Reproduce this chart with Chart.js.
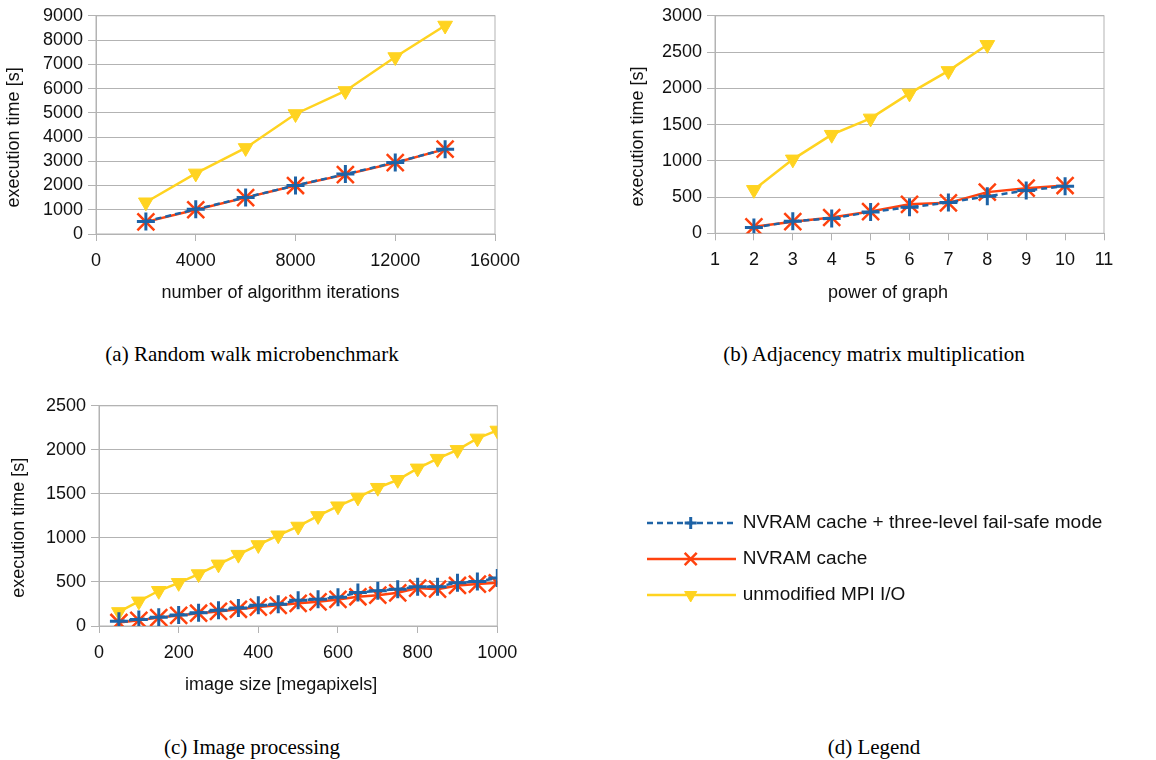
<!DOCTYPE html>
<html>
<head>
<meta charset="utf-8">
<script src="https://cdn.jsdelivr.net/npm/chart.js@4.4.1/dist/chart.umd.min.js"></script>
<style>
  html, body { margin: 0; padding: 0; background: #fff; }
  body { width: 1156px; height: 760px; position: relative; overflow: hidden; }
  canvas { position: absolute; }
  .caption { position: absolute; width: 420px; margin-left: -210px; text-align: center;
             font: 21px/24px "Liberation Serif", "Times New Roman", serif; color: #000; }
</style>
</head>
<body>
<canvas id="walk" width="540" height="310" style="left:0;top:0"></canvas>
<canvas id="adjacency" width="556" height="310" style="left:600px;top:0"></canvas>
<canvas id="image" width="540" height="320" style="left:0;top:390px"></canvas>
<canvas id="legend" width="556" height="220" style="left:600px;top:440px"></canvas>
<div class="caption" style="left:252px;top:342px">(a) Random walk microbenchmark</div>
<div class="caption" style="left:874px;top:342px">(b) Adjacency matrix multiplication</div>
<div class="caption" style="left:252px;top:735px">(c) Image processing</div>
<div class="caption" style="left:874px;top:735px">(d) Legend</div>
<script>
// (a) random walk
const iterations = [2000, 4000, 6000, 8000, 10000, 12000, 14000];
const walkFailSafe = [520, 1020, 1510, 2000, 2470, 2950, 3500];
const walkNvram = [500, 1000, 1500, 2000, 2450, 2940, 3500];
const walkMpi = [1310, 2500, 3550, 4950, 5900, 7300, 8600];

// (b) adjacency matrix
const powers = [2, 3, 4, 5, 6, 7, 8, 9, 10];
const adjFailSafe = [80, 165, 205, 295, 360, 425, 510, 590, 650];
const adjNvram = [90, 160, 218, 300, 400, 420, 568, 622, 659];
const adjMpi = [600, 1020, 1360, 1585, 1930, 2240, 2600];

// (c) image processing
const imageSizes = [50, 100, 150, 200, 250, 300, 350, 400, 450, 500,
                    550, 600, 650, 700, 750, 800, 850, 900, 950, 1000];
const imgFailSafe = [55, 75, 100, 125, 150, 180, 205, 235, 248, 292,
                     305, 325, 380, 400, 418, 445, 447, 492, 505, 545];
const imgNvram = [40, 65, 95, 120, 145, 165, 190, 215, 235, 258,
                  275, 302, 332, 350, 377, 430, 418, 460, 476, 490];
const imgMpi = [160, 280, 400, 490, 590, 700, 810, 920, 1030, 1130,
                1250, 1360, 1460, 1570, 1660, 1790, 1900, 2000, 2130, 2220];

const seriesNames = ['NVRAM cache + three-level fail-safe mode', 'NVRAM cache', 'unmodified MPI I/O'];

const BLUE = '#1e63a6', ORANGE = '#ff420e', YELLOW = '#ffd320', GRID = '#b3b3b3', INK = '#111';
const FONT = '"Liberation Sans", Arial, sans-serif';

const pts = (xs, ys) => ys.map((y, i) => ({ x: xs[i], y }));

function styles() {
    return [
        { label: seriesNames[0], borderColor: BLUE, backgroundColor: BLUE, borderWidth: 2.5, borderDash: [6, 4],
          pointStyle: 'cross', pointRadius: 9, pointBorderWidth: 3 },
        { label: seriesNames[1], borderColor: ORANGE, backgroundColor: ORANGE, borderWidth: 2.5,
          pointStyle: 'crossRot', pointRadius: 12, pointBorderWidth: 2.5 },
        { label: seriesNames[2], borderColor: YELLOW, backgroundColor: YELLOW, borderWidth: 2.5,
          pointStyle: 'triangle', pointRotation: 180, pointRadius: 8.5, pointBorderWidth: 1 },
    ];
}

// light frame around the plot area (LibreOffice wall)
const frame = {
    id: 'frame',
    beforeDatasetsDraw(chart) {
        const { ctx, chartArea: a } = chart;
        ctx.save();
        ctx.strokeStyle = GRID;
        ctx.lineWidth = 1;
        ctx.strokeRect(a.left, a.top, a.right - a.left, a.bottom - a.top);
        ctx.restore();
    },
};

// axis titles, centred the way the office suite does it
const axisTitles = {
    id: 'axisTitles',
    afterDraw(chart, args, o) {
        const { ctx, chartArea: a } = chart;
        ctx.save();
        ctx.font = `18px ${FONT}`;
        ctx.fillStyle = INK;
        ctx.textAlign = 'center';
        ctx.textBaseline = 'middle';
        ctx.fillText(o.x, (a.left + a.right) / 2 + o.xShift, a.bottom + o.xDrop);
        ctx.translate(o.yLeft, (a.top + a.bottom) / 2 + o.yShift);
        ctx.rotate(-Math.PI / 2);
        ctx.fillText(o.y, 0, 0);
        ctx.restore();
    },
};

function makeChart(id, sets, c) {
    const data = { datasets: styles().map((s, i) => ({ ...s, data: sets[i], fill: false, tension: 0 })) };
    return new Chart(document.getElementById(id), {
        type: 'line',
        data,
        options: {
            responsive: false,
            animation: false,
            layout: { padding: { top: c.top, right: c.right, left: 0, bottom: 0 } },
            plugins: {
                legend: { display: false },
                tooltip: { enabled: false },
                axisTitles: { x: c.xTitle, y: 'execution time [s]', xShift: c.xShift, xDrop: c.xDrop, yLeft: c.yLeft, yShift: c.yShift },
            },
            scales: {
                x: {
                    type: 'linear', min: c.xMin, max: c.xMax,
                    afterFit: (s) => { s.height = c.xHeight; },
                    grid: { drawOnChartArea: false, color: GRID, tickLength: 7 },
                    border: { color: GRID },
                    ticks: { stepSize: c.xStep, autoSkip: false, maxRotation: 0, padding: 9, color: INK,
                             font: { family: FONT, size: 18 }, callback: (v) => String(v) },
                },
                y: {
                    min: 0, max: c.yMax,
                    afterFit: (s) => { s.width = c.yWidth; },
                    grid: { color: GRID, tickLength: 8 },
                    border: { color: GRID },
                    ticks: { stepSize: c.yStep, autoSkip: false, padding: 5, color: INK,
                             font: { family: FONT, size: 18 }, callback: (v) => String(v) },
                },
            },
        },
        plugins: [frame, axisTitles],
    });
}

makeChart('walk', [pts(iterations, walkFailSafe), pts(iterations, walkNvram), pts(iterations, walkMpi)], {
    top: 14, right: 45, yWidth: 96, xHeight: 76,
    xMin: 0, xMax: 16000, xStep: 4000, yMax: 9000, yStep: 1000,
    xTitle: 'number of algorithm iterations', xShift: -15, xDrop: 59, yLeft: 14.5, yShift: 12.5,
});

makeChart('adjacency', [pts(powers, adjFailSafe), pts(powers, adjNvram), pts(powers, adjMpi)], {
    top: 14, right: 52, yWidth: 115, xHeight: 76.7,
    xMin: 1, xMax: 11, xStep: 1, yMax: 3000, yStep: 500,
    xTitle: 'power of graph', xShift: -21.5, xDrop: 59.7, yLeft: 38.3, yShift: 12,
});

makeChart('image', [pts(imageSizes, imgFailSafe), pts(imageSizes, imgNvram), pts(imageSizes, imgMpi)], {
    top: 15.3, right: 42.7, yWidth: 99, xHeight: 84,
    xMin: 0, xMax: 1000, xStep: 200, yMax: 2500, yStep: 500,
    xTitle: 'image size [megapixels]', xShift: -17, xDrop: 59, yLeft: 18.8, yShift: 11.8,
});

// (d) legend panel: line + marker + label for each series
const legendMarkers = [6, 8.5, 7];
const sideLegend = {
    id: 'sideLegend',
    afterDraw(chart) {
        const { ctx } = chart;
        chart.data.datasets.forEach((ds, i) => {
            const y = 83 + i * 36;
            ctx.save();
            ctx.strokeStyle = ds.borderColor;
            ctx.fillStyle = ds.backgroundColor;
            ctx.lineWidth = ds.borderWidth;
            ctx.setLineDash(ds.borderDash || []);
            ctx.beginPath();
            ctx.moveTo(47, y);
            ctx.lineTo(136, y);
            ctx.stroke();
            ctx.setLineDash([]);
            ctx.lineWidth = ds.pointBorderWidth;
            Chart.helpers.drawPoint(ctx, {
                pointStyle: ds.pointStyle, rotation: ds.pointRotation || 0,
                radius: legendMarkers[i], borderWidth: ds.pointBorderWidth,
            }, 90.7, y);
            ctx.fillStyle = INK;
            ctx.font = `19px ${FONT}`;
            ctx.textAlign = 'left';
            ctx.textBaseline = 'middle';
            ctx.fillText(ds.label, 142.7, y);
            ctx.restore();
        });
    },
};

new Chart(document.getElementById('legend'), {
    type: 'line',
    data: { datasets: styles().map((s) => ({ ...s, data: [] })) },
    options: {
        responsive: false,
        animation: false,
        plugins: { legend: { display: false }, tooltip: { enabled: false } },
        scales: { x: { display: false }, y: { display: false } },
    },
    plugins: [sideLegend],
});
</script>
</body>
</html>
